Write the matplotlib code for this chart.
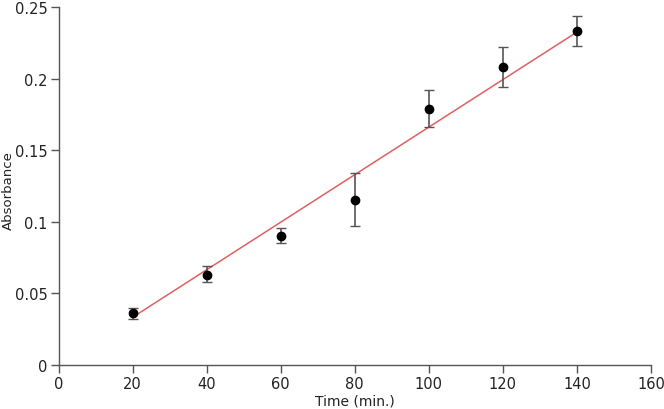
import matplotlib.pyplot as plt
import numpy as np

# data
time_min = [20, 40, 60, 80, 100, 120, 140]
absorbance = [0.036, 0.063, 0.090, 0.115, 0.179, 0.208, 0.233]
err_low = [0.032, 0.058, 0.085, 0.097, 0.166, 0.194, 0.223]
err_high = [0.040, 0.069, 0.096, 0.134, 0.192, 0.222, 0.244]

# fitted trend line
fit_slope = 0.00166
fit_intercept = 0.0001

x_ticks = [0, 20, 40, 60, 80, 100, 120, 140, 160]
y_ticks = [0, 0.05, 0.1, 0.15, 0.2, 0.25]
y_ticklabels = ['0', '0.05', '0.1', '0.15', '0.2', '0.25']

fig = plt.figure(figsize=(6.64, 4.10), dpi=100)
ax = fig.add_axes([58.5 / 664, 1 - 366 / 410, (651 - 58.5) / 664, (366 - 8) / 410])

y = np.array(absorbance)
yerr = [y - np.array(err_low), np.array(err_high) - y]

fit_x = np.array([time_min[0], time_min[-1]])
ax.plot(fit_x, fit_intercept + fit_slope * fit_x, color='#e06060', lw=1.1, zorder=2)

ax.errorbar(time_min, absorbance, yerr=yerr, fmt='none', ecolor='#555555',
            elinewidth=1.2, capsize=3.5, capthick=1.0, zorder=3)
ax.plot(time_min, absorbance, 'o', color='black', ms=6, zorder=4)

ax.set_xlim(0, 160)
ax.set_ylim(0, 0.25)
ax.set_xticks(x_ticks)
ax.set_yticks(y_ticks)
ax.set_yticklabels(y_ticklabels)

for side in ['top', 'right']:
    ax.spines[side].set_visible(False)
for side in ['left', 'bottom']:
    ax.spines[side].set_color('#555555')
    ax.spines[side].set_linewidth(1.0)

ax.tick_params(direction='out', length=5.5, width=1, color='#555555',
               labelsize=10.5, labelcolor='#222222', pad=2.5)

ax.set_xlabel('Time (min.)', fontsize=10, labelpad=2, color='#222222')
ax.set_ylabel('Absorbance', fontsize=9.5, color='#222222', va='center')
ax.yaxis.set_label_coords(-50 / 592.5, 0.49)

fig.savefig('out.png', dpi=100)
